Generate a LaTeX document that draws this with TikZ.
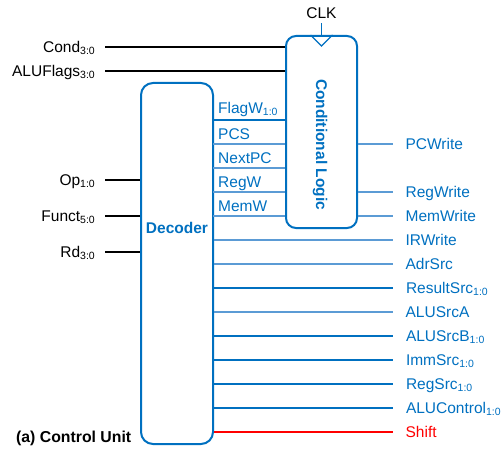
\documentclass[tikz,border=0pt]{standalone}
\usepackage{fontspec}
\setmainfont{Liberation Sans}
\usetikzlibrary{positioning}
\definecolor{ctlblue}{RGB}{0,112,192}
\definecolor{sigblue}{RGB}{91,155,213}
\newcommand{\bits}[1]{\raisebox{-2pt}{\fontsize{10.5}{11}\selectfont #1}}

\begin{document}
\begin{tikzpicture}[
  x=1pt, y=1pt,
  every node/.style={font=\fontsize{15.5}{18}\selectfont, inner sep=0pt},
  unit/.style={draw=ctlblue, line width=2pt, rounded corners=12pt},
  title/.style={text=ctlblue, font=\fontsize{15.5}{18}\selectfont\bfseries},
  insig/.style={text height=10.5pt, text depth=0pt},
  outsig/.style={text=ctlblue, text height=10.5pt, text depth=0pt},
  wire/.style={line width=2pt},
  bus/.style={line width=2pt, draw=ctlblue},
  ctl/.style={line width=1.2pt, draw=sigblue},
  shiftsig/.style={line width=1.2pt, draw=red}
]
  \useasboundingbox (0,0) rectangle (503,448);

  % the two blocks
  \node[unit, minimum width=72pt, minimum height=361pt] (dec) at (177,184.5) {};
  \node[unit, rounded corners=10pt, minimum width=71pt, minimum height=192pt] (cl) at (321.5,316) {};
  \node[title, anchor=base] (declbl) at (177,214.7) {Decoder};
  \node[title, rotate=-90] (cllbl) at (320,303.5) {Conditional Logic};

  % clock input
  \node[anchor=base] (clk) at (321.5,429) {CLK};
  \draw[ctlblue, line width=1.5pt] (cl.north) -- ([yshift=-4pt]clk.base);
  \draw[ctlblue, line width=1.2pt] ([xshift=-11pt]cl.north) -- ([yshift=-11pt]cl.north) -- ([xshift=11pt]cl.north);

  % inputs
  \coordinate (condin) at (105,401);
  \coordinate (flagsin) at (105,377);
  \coordinate (opin) at (105,268);
  \coordinate (functin) at (105,232);
  \coordinate (rdin) at (105,196);
  \draw[wire] (condin) -- (condin -| cl.west);
  \draw[wire] (flagsin) -- (flagsin -| cl.west);
  \draw[wire] (opin) -- (opin -| dec.west);
  \draw[wire] (functin) -- (functin -| dec.west);
  \draw[wire] (rdin) -- (rdin -| dec.west);
  \node[insig, left=10pt of condin] (cond) {Cond\bits{3:0}};
  \node[insig, left=10pt of flagsin] (aluflags) {ALUFlags\bits{3:0}};
  \node[insig, left=10pt of opin] (op) {Op\bits{1:0}};
  \node[insig, left=10pt of functin] (funct) {Funct\bits{5:0}};
  \node[insig, left=10pt of rdin] (rd) {Rd\bits{3:0}};

  % decoder to conditional logic
  \coordinate (fw) at (213,328);
  \coordinate (pc) at (213,304);
  \coordinate (np) at (213,280);
  \coordinate (rw) at (213,256);
  \coordinate (mw) at (213,232);
  \draw[bus] (fw) -- (fw -| cl.west);
  \draw[ctl] (pc) -- (pc -| cl.west);
  \draw[ctl] (np) -- (np -| cl.west);
  \draw[ctl] (rw) -- (rw -| cl.west);
  \draw[ctl] (mw) -- (mw -| cl.west);
  \node[outsig, above right=6.5pt and 5pt of fw] (flagw) {FlagW\bits{1:0}};
  \node[outsig, above right=4.7pt and 5pt of pc] (pcs) {PCS};
  \node[outsig, above right=4.7pt and 5pt of np] (nextpc) {NextPC};
  \node[outsig, above right=4.7pt and 5pt of rw] (regw) {RegW};
  \node[outsig, above right=4.7pt and 5pt of mw] (memw) {MemW};

  % outputs
  \coordinate (pcwout) at (393,304);
  \coordinate (rwout) at (393,256);
  \coordinate (mwout) at (393,232);
  \coordinate (irout) at (393,208);
  \coordinate (adrout) at (393,184);
  \coordinate (resout) at (393,160);
  \coordinate (srcaout) at (393,136);
  \coordinate (srcbout) at (393,112);
  \coordinate (immout) at (393,88);
  \coordinate (regsout) at (393,64);
  \coordinate (aluout) at (393,40);
  \coordinate (shout) at (393,16);
  \draw[ctl] (cl.east |- pcwout) -- (pcwout) node[outsig, right=12pt] (pcwrite) {PCWrite};
  \draw[ctl] (cl.east |- rwout) -- (rwout) node[outsig, right=12pt] (regwrite) {RegWrite};
  \draw[ctl] (cl.east |- mwout) -- (mwout) node[outsig, right=12pt] (memwrite) {MemWrite};
  \draw[ctl] (dec.east |- irout) -- (irout) node[outsig, right=12pt] (irwrite) {IRWrite};
  \draw[ctl] (dec.east |- adrout) -- (adrout) node[outsig, right=12pt] (adrsrc) {AdrSrc};
  \draw[bus] (dec.east |- resout) -- (resout) node[outsig, right=12pt] (resultsrc) {ResultSrc\bits{1:0}};
  \draw[ctl] (dec.east |- srcaout) -- (srcaout) node[outsig, right=12pt] (alusrca) {ALUSrcA};
  \draw[bus] (dec.east |- srcbout) -- (srcbout) node[outsig, right=12pt] (alusrcb) {ALUSrcB\bits{1:0}};
  \draw[bus] (dec.east |- immout) -- (immout) node[outsig, right=12pt] (immsrc) {ImmSrc\bits{1:0}};
  \draw[bus] (dec.east |- regsout) -- (regsout) node[outsig, right=12pt] (regsrc) {RegSrc\bits{1:0}};
  \draw[bus] (dec.east |- aluout) -- (aluout) node[outsig, right=12pt] (aluctl) {ALUControl\bits{1:0}};
  \draw[shiftsig] (dec.east |- shout) -- (shout) node[outsig, text=red, right=12pt] (shift) {Shift};

  \node[anchor=base west, font=\fontsize{15.8}{18}\selectfont\bfseries] (caption) at (16,6) {(a) Control Unit};
\end{tikzpicture}
\end{document}
